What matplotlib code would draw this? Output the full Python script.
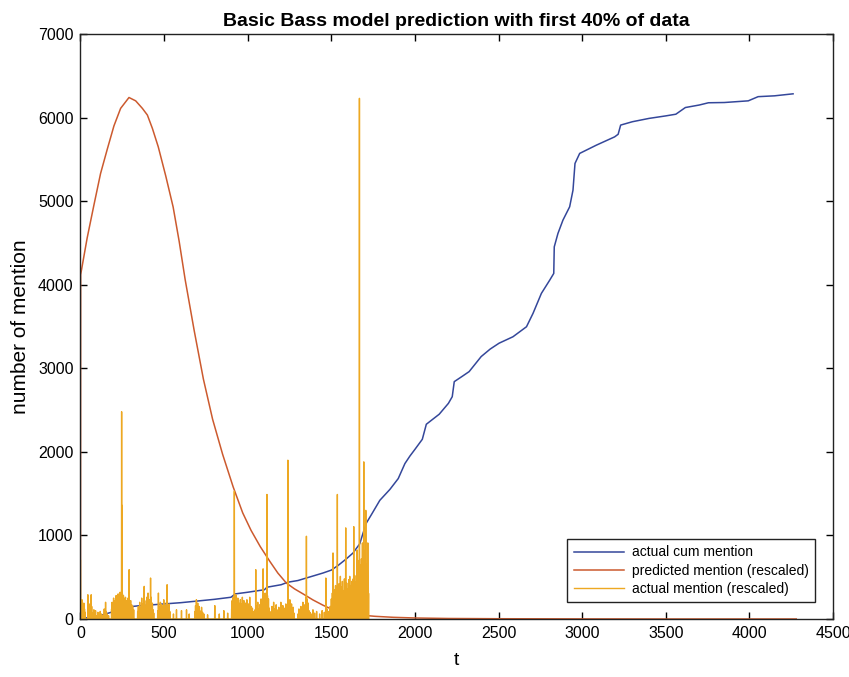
import numpy as np
import matplotlib
matplotlib.use("Agg")
import matplotlib.pyplot as plt

plt.rcParams['font.family'] = ['Liberation Sans', 'DejaVu Sans']

# cumulative mentions (day, count)
cum_t = [0, 50, 100, 150, 200, 250, 300, 350, 400, 500, 600, 700, 800, 900, 925,
         1000, 1100, 1115, 1200, 1240, 1300, 1350, 1400, 1450, 1500, 1540, 1590,
         1630, 1670, 1690, 1710, 1740, 1790, 1850, 1900, 1940, 1970, 2000, 2044,
         2068, 2100, 2145, 2200, 2223, 2235, 2280, 2324, 2360, 2396, 2450, 2503,
         2586, 2667, 2706, 2756, 2806, 2830, 2833, 2855, 2885, 2925, 2945, 2957,
         2985, 3085, 3194, 3215, 3230, 3300, 3400, 3500, 3560, 3617, 3700, 3755,
         3850, 3993, 4052, 4150, 4261]
cum_v = [10, 15, 30, 60, 90, 120, 148, 158, 165, 180, 195, 215, 235, 260, 300,
         320, 350, 380, 410, 440, 460, 490, 520, 550, 585, 640, 720,
         790, 900, 1030, 1150, 1250, 1420, 1550, 1680, 1860, 1950, 2030, 2150,
         2330, 2380, 2450, 2580, 2660, 2840, 2900, 2960, 3050, 3140, 3230, 3300,
         3377, 3497, 3657, 3896, 4055, 4135, 4453, 4613, 4773, 4932, 5131, 5451,
         5571, 5670, 5769, 5800, 5910, 5950, 5990, 6020, 6040, 6120, 6150, 6177,
         6180, 6200, 6250, 6260, 6284]

# Bass model prediction, rescaled (day, value)
pred_t = [0, 1, 40, 80, 120, 160, 200, 240, 290, 330, 370, 400, 430, 465, 510,
          554, 590, 626, 680, 735, 790, 850, 913, 970, 1020, 1075, 1132, 1180,
          1231, 1280, 1331, 1390, 1450, 1510, 1580, 1670, 1760, 1870, 2000, 2200,
          2500, 3000, 3500, 4280]
pred_v = [0, 4120, 4560, 4950, 5330, 5620, 5900, 6110, 6240, 6200, 6110, 6030,
          5870, 5650, 5300, 4930, 4520, 4060, 3450, 2870, 2390, 1970, 1580, 1270,
          1060, 866, 690, 550, 430, 360, 300, 228, 165, 110, 75, 48, 32, 20, 12, 6,
          3, 1, 0, 0]

# daily mentions, rescaled (non-zero days only)
mention_day = [
    0, 3, 6, 9, 12, 16, 20, 24, 28,
    44, 47, 52, 58, 64, 67, 72, 80, 86, 90, 96, 104, 110, 118, 126, 134, 142, 150, 153, 160, 168,
    186, 189, 192, 195, 198, 201, 204, 207, 210, 213, 216, 219, 222, 225, 228, 231, 234, 237, 240,
    243, 246, 248, 251, 254, 257, 260, 263, 266, 269, 272, 275, 278, 281, 284, 287, 291, 294, 297,
    300, 303, 306, 309, 312, 315, 318,
    342, 346, 350, 354, 358, 362, 366, 370, 374, 378, 381, 384, 388, 392, 396, 400, 404, 408, 412,
    416, 419, 422, 426, 430, 434, 438,
    462, 466, 470, 474, 478, 482, 486, 490, 494, 498, 502, 506, 510, 514, 518, 522, 526, 530, 534,
    556, 574, 604, 634, 650,
    684, 688, 693, 697, 701, 705, 709, 713, 718, 724, 730, 738,
    760, 803, 830, 857, 880,
    904, 907, 910, 913, 916, 920, 923, 926, 929, 932, 935, 938, 941, 944, 947, 950, 953, 956, 959,
    962, 965, 968, 971, 974, 977, 980, 983, 986, 989, 992, 995, 998, 1001, 1004, 1008, 1012, 1016,
    1020, 1024, 1028, 1032, 1036,
    1044, 1048, 1052, 1056, 1060, 1064, 1068, 1072, 1076, 1080, 1084, 1088, 1092, 1096, 1100, 1104,
    1108, 1112, 1115, 1118, 1121, 1124, 1128, 1132,
    1140, 1145, 1150, 1155, 1160, 1165, 1170, 1175, 1180, 1186, 1192, 1198, 1204, 1210, 1216, 1222,
    1228, 1234, 1240, 1243, 1247, 1252, 1257, 1262, 1267, 1272, 1277,
    1300, 1306, 1312, 1318, 1324, 1330, 1336, 1342, 1348, 1351, 1354, 1358, 1362, 1366, 1372, 1380,
    1390, 1400, 1412,
    1430, 1445, 1458, 1467, 1475, 1485, 1493,
    1497, 1500, 1503, 1506, 1510, 1513, 1516, 1519, 1522, 1525, 1528, 1531, 1534, 1536, 1539, 1542,
    1545, 1548, 1551, 1554, 1557, 1560, 1563, 1566, 1569, 1572, 1575, 1578, 1581, 1584, 1586, 1589,
    1592, 1595, 1598, 1601, 1604, 1607, 1610, 1613, 1616, 1619, 1622, 1625, 1628, 1631, 1634, 1637,
    1640, 1643, 1646, 1649, 1652, 1654, 1657, 1660, 1663, 1666, 1668, 1671, 1674, 1677, 1680, 1683,
    1686, 1689, 1692, 1694, 1697, 1700, 1703, 1706, 1709, 1712, 1715, 1718, 1721, 1724,
]
mention_val = [
    700, 180, 90, 230, 140, 60, 190, 120, 80,
    290, 120, 180, 90, 290, 150, 70, 110, 60, 100, 40, 80, 50, 90, 60, 40, 120, 200, 90, 60, 40,
    120, 200, 90, 160, 250, 130, 180, 220, 140, 280, 190, 240, 160, 300, 210, 260, 180, 320, 250,
    290, 2480, 1360, 300, 220, 280, 190, 240, 170, 260, 150, 220, 180, 130, 250, 160, 590, 200, 140,
    220, 120, 170, 90, 150, 80, 110,
    90, 150, 110, 200, 130, 90, 250, 180, 140, 300, 390, 220, 160, 120, 260, 180, 310, 140, 230,
    170, 490, 260, 150, 190, 110, 70,
    100, 310, 150, 90, 200, 130, 170, 80, 140, 230, 110, 160, 90, 200, 410, 150, 120, 180, 90,
    60, 110, 100, 110, 60,
    90, 160, 230, 120, 190, 80, 150, 100, 60, 140, 80, 60,
    50, 160, 60, 100, 70,
    120, 220, 150, 260, 180, 1530, 240, 170, 290, 130, 210, 160, 250, 120, 190, 90, 170, 230, 110,
    180, 140, 260, 100, 160, 220, 130, 90, 190, 120, 150, 230, 90, 140, 180, 100, 260, 120,
    150, 80, 130, 90, 60,
    110, 590, 150, 90, 200, 120, 80, 170, 110, 240, 130, 180, 600, 250, 190, 310,
    160, 220, 1490, 280, 180, 240, 130, 90,
    80, 150, 100, 200, 120, 90, 170, 110, 60, 140, 90, 200, 120, 160, 90, 130,
    180, 110, 1900, 200, 140, 230, 120, 180, 90, 140, 70,
    60, 120, 80, 150, 100, 200, 130, 170, 260, 990, 240, 150, 190, 100, 80, 60,
    110, 70, 90,
    60, 100, 80, 490, 120, 90, 150,
    120, 240, 160, 310, 790, 220, 350, 180, 270, 400, 210, 330, 260, 1490, 300, 190,
    420, 260, 350, 510, 230, 380, 290, 450, 200, 340, 270, 480, 310, 390, 1090, 280,
    430, 220, 360, 300, 470, 250, 510, 330, 400, 260, 450, 350, 290, 480, 1105, 370,
    520, 300, 440, 380, 560, 826, 420, 600, 480, 700, 6230, 550, 650, 480, 720, 560,
    910, 640, 520, 1880, 700, 580, 820, 1300, 600, 480, 660, 910, 420, 300,
]

n_days = 1725
mention = np.zeros(n_days)
mention[mention_day] = mention_val
mention_t = np.arange(n_days)

fig = plt.figure(figsize=(8.49, 6.77), dpi=100)
ax = fig.add_axes([0.0948, 0.0857, 0.8864, 0.8641])

ax.plot(cum_t, cum_v, color='#34479a', lw=1.1, label='actual cum mention')
ax.plot(pred_t, pred_v, color='#cc5a2e', lw=1.1, label='predicted mention (rescaled)')
ax.plot(mention_t, mention, color='#eda822', lw=1.0, label='actual mention (rescaled)')

ax.set_xlim(0, 4500)
ax.set_ylim(0, 7000)
ax.set_xticks(np.arange(0, 4501, 500))
ax.set_yticks(np.arange(0, 7001, 1000))
ax.tick_params(direction='in', length=5, width=1, top=True, right=True,
               labelsize=11.5, pad=5)
for s in ax.spines.values():
    s.set_linewidth(1.0)
    s.set_color('#222222')

ax.set_xlabel('t', fontsize=14, labelpad=8)
ax.set_ylabel('number of mention', fontsize=15, labelpad=6)
ax.set_title('Basic Bass model prediction with first 40% of data',
             fontsize=14, fontweight='bold', pad=6)

leg = ax.legend(loc='lower right', bbox_to_anchor=(0.976, 0.029), borderaxespad=0,
                fontsize=10, fancybox=False, framealpha=1, edgecolor='#222222',
                handlelength=3.6, handletextpad=0.6, borderpad=0.45,
                labelspacing=0.3)
leg.get_frame().set_linewidth(1.0)

fig.savefig('out.png', dpi=100)
